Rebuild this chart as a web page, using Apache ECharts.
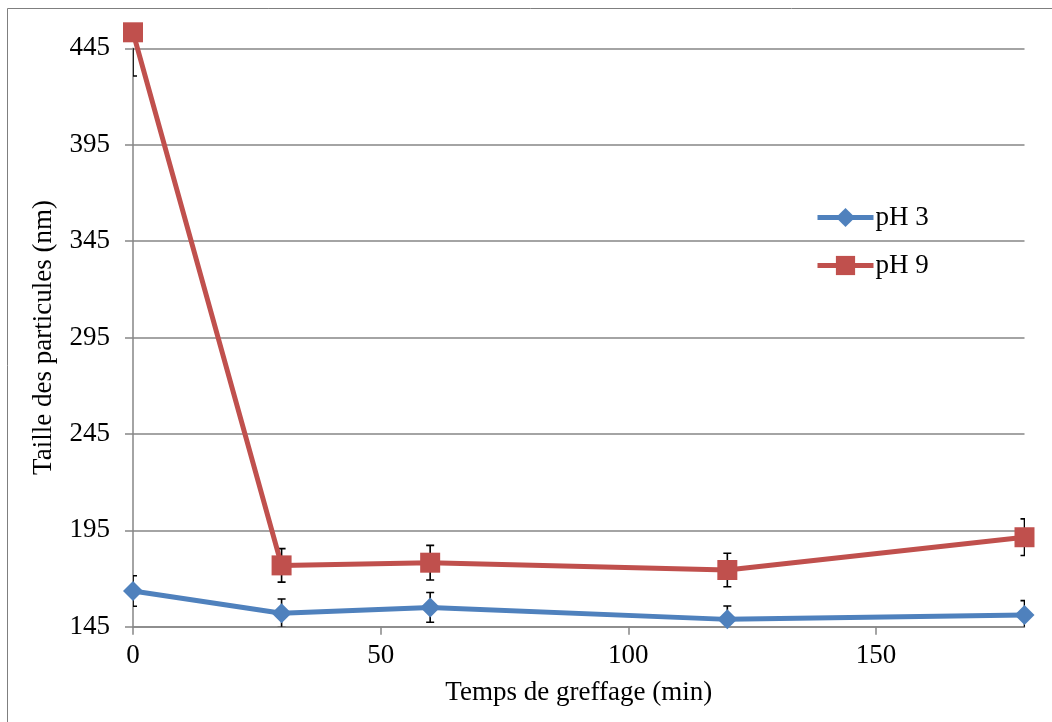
<!DOCTYPE html>
<html>
<head>
<meta charset="utf-8">
<script src="https://cdn.jsdelivr.net/npm/echarts@6/dist/echarts.min.js"></script>
<style>
  html, body { margin: 0; padding: 0; background: #fff; }
  #chart { width: 1052px; height: 722px; }
</style>
</head>
<body>
<div id="chart"></div>
<script>
// Grafting time (min)
const times = [0, 30, 60, 120, 180];

// Particle size (nm) and standard deviation for each pH
const ph3Values = [163.5, 152, 155, 148.8, 151.1];
const ph3Errors = [7.9, 7.4, 7.7, 6.9, 7.4];
const ph9Values = [453.3, 176.8, 178.2, 174.4, 191.4];
const ph9Errors = [22.7, 8.7, 9, 8.7, 9.5];

const yTicks = [145, 195, 245, 295, 345, 395, 445];
const xTicks = [0, 50, 100, 150];

const BLUE = '#4F81BD';
const RED = '#C0504D';
const GRAY = '#868686';
const FONT = '"Liberation Serif", "Times New Roman", serif';
const FS = 27;

function points(values) {
  return times.map((t, i) => [t, values[i]]);
}
function errorRows(values, errors) {
  return times.map((t, i) => [t, values[i] - errors[i], values[i] + errors[i]]);
}

// Vertical error bar with short caps
function renderErrorBar(params, api) {
  const x = api.value(0);
  const lo = api.coord([x, api.value(1)]);
  const hi = api.coord([x, api.value(2)]);
  const half = 4;
  const style = { stroke: '#000', lineWidth: 1.6 };
  return {
    type: 'group',
    children: [
      { type: 'line', shape: { x1: lo[0], y1: lo[1], x2: hi[0], y2: hi[1] }, style },
      { type: 'line', shape: { x1: lo[0] - half, y1: lo[1], x2: lo[0] + half, y2: lo[1] }, style },
      { type: 'line', shape: { x1: hi[0] - half, y1: hi[1], x2: hi[0] + half, y2: hi[1] }, style }
    ]
  };
}

const chart = echarts.init(document.getElementById('chart'), null, { renderer: 'canvas' });

chart.setOption({
  animation: false,
  backgroundColor: '#fff',
  textStyle: { fontFamily: FONT },
  graphic: [{
    type: 'rect',
    shape: { x: 7.5, y: 8.5, width: 1100, height: 800 },
    style: { fill: 'none', stroke: '#7f7f7f', lineWidth: 1 },
    silent: true,
    z: -10
  }],
  grid: { left: 133, right: 27.5, top: 48.3, bottom: 95.3 },
  legend: {
    orient: 'vertical',
    left: 815,
    top: 204,
    padding: 0,
    itemWidth: 56,
    itemHeight: 24,
    itemGap: 21,
    textStyle: { fontFamily: FONT, fontSize: FS, color: '#000', padding: [0, 0, 0, -3] },
    data: [
      { name: 'pH 3', itemStyle: { color: BLUE }, lineStyle: { color: BLUE, width: 5 } },
      { name: 'pH 9', itemStyle: { color: RED }, lineStyle: { color: RED, width: 5 } }
    ]
  },
  xAxis: {
    type: 'value',
    min: 0,
    max: 180,
    interval: 50,
    name: 'Temps de greffage (min)',
    nameLocation: 'middle',
    nameGap: 53,
    nameTextStyle: { fontFamily: FONT, fontSize: FS, color: '#000' },
    axisLine: { show: true, lineStyle: { color: GRAY, width: 1.5 } },
    axisTick: { show: true, inside: false, length: 8, lineStyle: { color: GRAY, width: 1.5 }, customValues: xTicks },
    axisLabel: { fontFamily: FONT, fontSize: FS, color: '#000', margin: 16, customValues: xTicks },
    splitLine: { show: false }
  },
  yAxis: {
    type: 'value',
    min: 145,
    max: 445,
    interval: 50,
    name: 'Taille des particules (nm)',
    nameLocation: 'middle',
    nameGap: 76,
    nameTextStyle: { fontFamily: FONT, fontSize: FS, color: '#000' },
    axisLine: { show: true, lineStyle: { color: GRAY, width: 1.5 } },
    axisTick: { show: true, inside: false, length: 8, lineStyle: { color: GRAY, width: 1.5 }, customValues: yTicks },
    axisLabel: { fontFamily: FONT, fontSize: FS, color: '#000', margin: 23, customValues: yTicks },
    splitLine: { show: true, lineStyle: { color: GRAY, width: 1.5 } }
  },
  series: [
    {
      name: 'pH 3 err',
      type: 'custom',
      renderItem: renderErrorBar,
      data: errorRows(ph3Values, ph3Errors),
      encode: { x: 0, y: [1, 2] },
      clip: true,
      silent: true,
      z: 1
    },
    {
      name: 'pH 9 err',
      type: 'custom',
      renderItem: renderErrorBar,
      data: errorRows(ph9Values, ph9Errors),
      encode: { x: 0, y: [1, 2] },
      clip: true,
      silent: true,
      z: 1
    },
    {
      name: 'pH 3',
      type: 'line',
      data: points(ph3Values),
      symbol: 'diamond',
      symbolSize: 20,
      clip: false,
      lineStyle: { color: BLUE, width: 5 },
      itemStyle: { color: BLUE, borderWidth: 0 },
      z: 3
    },
    {
      name: 'pH 9',
      type: 'line',
      data: points(ph9Values),
      symbol: 'rect',
      symbolSize: 20,
      clip: false,
      lineStyle: { color: RED, width: 5 },
      itemStyle: { color: RED, borderWidth: 0 },
      z: 2
    }
  ]
});
</script>
</body>
</html>
